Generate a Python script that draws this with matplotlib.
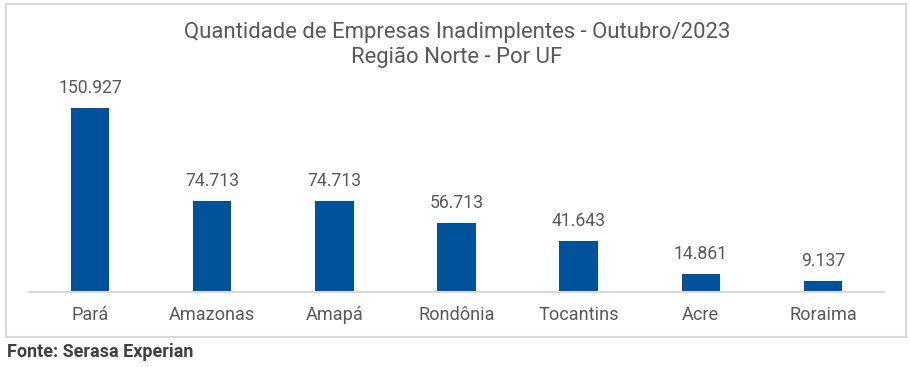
import matplotlib.pyplot as plt
from matplotlib.patches import Rectangle

plt.rcParams['font.family'] = ['Roboto', 'DejaVu Sans']

ufs = ["Pará", "Amazonas", "Amapá", "Rondônia", "Tocantins", "Acre", "Roraima"]
empresas = [150927, 74713, 74713, 56713, 41643, 14861, 9137]
rotulos = ["150.927", "74.713", "74.713", "56.713", "41.643", "14.861", "9.137"]

bar_color = '#00539B'
text_color = '#595959'

fig = plt.figure(figsize=(9.1, 3.67), dpi=100)

# moldura cinza em volta do grafico
fig.patches.append(Rectangle((6/910, 1-337/367), 900/910, 333/367, transform=fig.transFigure,
                             fill=False, edgecolor='#D9D9D9', linewidth=1.5))

ax = fig.add_axes([29/910, 1-292/367, 855/910, 212/367])
x = range(len(ufs))
ax.bar(x, empresas, width=0.315, color=bar_color)
for xi, v, lab in zip(x, empresas, rotulos):
    ax.annotate(lab, (xi, v), xytext=(0, 8), textcoords='offset points',
                ha='center', va='bottom', fontsize=12.7, color=text_color)

ax.set_xlim(-0.5, len(ufs) - 0.5)
ax.set_ylim(0, 150927 * 212 / 184)
ax.set_xticks(list(x))
ax.set_xticklabels(ufs, fontsize=13.1, color=text_color)
for t in ax.get_xticklabels():
    t.set_va('baseline')
ax.tick_params(axis='x', length=0, pad=20.5)
ax.set_yticks([])
for s in ['top', 'right', 'left']:
    ax.spines[s].set_visible(False)
ax.spines['bottom'].set_color('#D9D9D9')
ax.spines['bottom'].set_linewidth(1.5)

fig.text(457/910, 1-45/367, "Quantidade de Empresas Inadimplentes - Outubro/2023\nRegião Norte - Por UF",
         ha='center', va='center', fontsize=15.9, color=text_color, linespacing=1.2)
fig.text(7/910, 1-352/367, "Fonte: Serasa Experian", ha='left', va='center',
         fontsize=13, fontweight='bold', color='#404040')

fig.savefig('out.png', dpi=100)
